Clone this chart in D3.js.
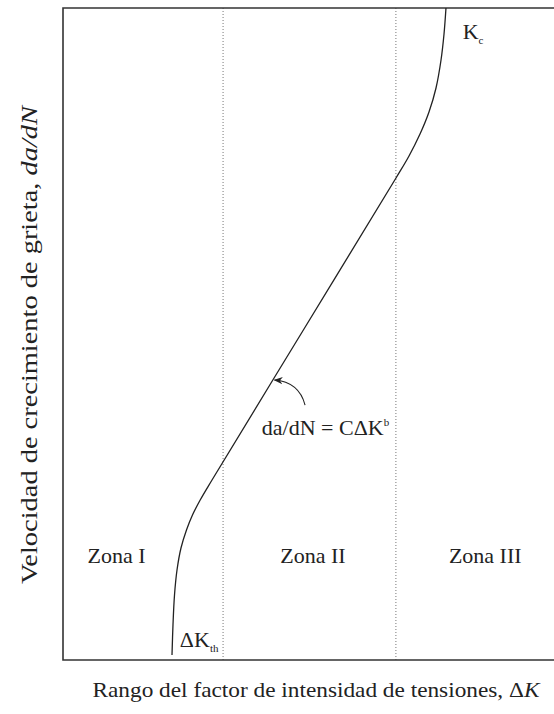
<!DOCTYPE html>
<html>
<head>
<meta charset="utf-8">
<script src="https://cdn.jsdelivr.net/npm/d3@7"></script>
<style>
  html, body { margin: 0; padding: 0; background: #fff; }
  svg { display: block; }
  text { font-family: "Liberation Serif", "Times New Roman", serif; fill: #222; }
</style>
</head>
<body>
<div id="chart"></div>
<script>
// Crack growth rate curve (da/dN vs ΔK), schematic units 0–100 on both axes
const deltaK = [22.20, 22.40, 22.71, 23.22, 24.03, 25.15, 26.37, 27.94, 30.35, 49.08,
                67.82, 70.47, 72.71, 74.54, 75.97, 76.99, 77.60, 78.00];
const growthRate = [0.77, 5.37, 9.97, 13.80, 17.18, 19.94, 22.24, 24.54, 27.61, 50.77,
                    73.93, 77.30, 80.67, 84.05, 87.73, 92.02, 96.01, 100];
// Boundaries between the three regimes
const zoneBounds = [32.6, 67.8];
const zoneNames = ["Zona I", "Zona II", "Zona III"];
const zoneCenters = [10.9, 50.9, 86.0];

const W = 554, H = 714;
const margin = { left: 63, top: 8, right: 0, bottom: 54 };

const svg = d3.select("#chart").append("svg").attr("width", W).attr("height", H);

const x = d3.scaleLinear().domain([0, 100]).range([margin.left, W - margin.right]);
const y = d3.scaleLinear().domain([0, 100]).range([H - margin.bottom, margin.top]);

// Zone separators
svg.selectAll(".zone-line").data(zoneBounds).enter().append("line")
  .attr("x1", d => x(d)).attr("x2", d => x(d))
  .attr("y1", y(100)).attr("y2", y(0))
  .attr("stroke", "#777").attr("stroke-width", 1).attr("stroke-dasharray", "1,2");

// Frame: top edge, left axis, bottom axis (no ticks)
svg.append("path").attr("d", `M${x(100)},${y(100)}H${x(0)}V${y(0)}H${x(100)}`)
  .attr("stroke", "#333").attr("stroke-width", 1.6).attr("fill", "none");

// Growth curve
const pts = deltaK.map((k, i) => [k, growthRate[i]]);
const line = d3.line().x(d => x(d[0])).y(d => y(d[1])).curve(d3.curveCatmullRom.alpha(0.5));
svg.append("path").datum(pts).attr("d", line)
  .attr("fill", "none").attr("stroke", "#222").attr("stroke-width", 1.3);

// Zone labels
svg.selectAll(".zone-label").data(zoneNames).enter().append("text")
  .attr("x", (d, i) => x(zoneCenters[i])).attr("y", y(14.9))
  .attr("text-anchor", "middle").attr("font-size", 22).text(d => d);

// Threshold and fracture toughness labels
const kth = svg.append("text").attr("x", x(23.8)).attr("y", y(2.0)).attr("font-size", 22);
kth.append("tspan").text("ΔK");
kth.append("tspan").attr("font-size", 11).attr("dy", 5).text("th");

const kc = svg.append("text").attr("x", x(81.4)).attr("y", y(95.2)).attr("font-size", 22);
kc.append("tspan").text("K");
kc.append("tspan").attr("font-size", 11).attr("dy", 5).text("c");

// Paris law annotation with curved arrow
const tipK = 42.77, tipRate = 42.94;
const eq = svg.append("text").attr("x", x(40.5)).attr("y", y(34.5)).attr("font-size", 22);
eq.append("tspan").text("da/dN = CΔK");
eq.append("tspan").attr("font-size", 11).attr("dy", -9).text("b");

svg.append("defs").append("marker")
  .attr("id", "arrow").attr("viewBox", "0 0 10 10").attr("refX", 9).attr("refY", 5)
  .attr("markerWidth", 9).attr("markerHeight", 9).attr("markerUnits", "userSpaceOnUse")
  .attr("orient", "auto-start-reverse")
  .append("path").attr("d", "M0,1L10,5L0,9L3,5Z").attr("fill", "#222");

const ax0 = x(49.3), ay0 = y(39.1), ax1 = x(tipK) + 1.5, ay1 = y(tipRate);
svg.append("path")
  .attr("d", `M${ax0},${ay0}Q${ax0 - 6},${ay1 + 2} ${ax1},${ay1}`)
  .attr("fill", "none").attr("stroke", "#222").attr("stroke-width", 1.1)
  .attr("marker-end", "url(#arrow)");

// Axis titles
const xt = svg.append("text").attr("x", 316).attr("y", 697)
  .attr("text-anchor", "middle").attr("font-size", 22)
  .attr("textLength", 447).attr("lengthAdjust", "spacingAndGlyphs");
xt.append("tspan").text("Rango del factor de intensidad de tensiones, Δ");
xt.append("tspan").attr("font-style", "italic").text("K");

const yt = svg.append("text").attr("transform", "translate(37,345) rotate(-90)")
  .attr("text-anchor", "middle").attr("font-size", 23)
  .attr("textLength", 478).attr("lengthAdjust", "spacingAndGlyphs");
yt.append("tspan").text("Velocidad de crecimiento de grieta, ");
yt.append("tspan").attr("font-style", "italic").text("da/dN");
</script>
</body>
</html>
